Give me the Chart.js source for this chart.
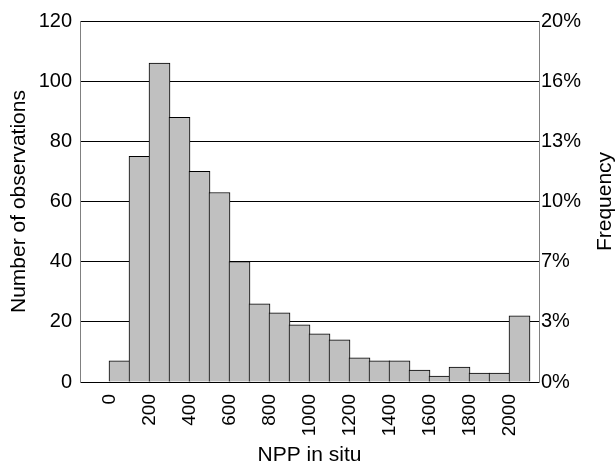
<!DOCTYPE html>
<html>
<head>
<meta charset="utf-8">
<script src="https://cdn.jsdelivr.net/npm/chart.js@4/dist/chart.umd.min.js"></script>
<style>
html,body{margin:0;padding:0;background:#fff;}
#wrap{width:616px;height:466px;position:relative;}
</style>
</head>
<body>
<div id="wrap"><canvas id="c" width="616" height="466"></canvas></div>
<script>
// ---- data ----
const binStarts = [0,100,200,300,400,500,600,700,800,900,1000,1100,1200,1300,1400,1500,1600,1700,1800,1900,2000];
const counts    = [7,75,106,88,70,63,40,26,23,19,16,14,8,7,7,4,2,5,3,3,22];
const binWidth  = 100;
const xTickValues = [0,200,400,600,800,1000,1200,1400,1600,1800,2000];
const yTickValues = [0,20,40,60,80,100,120];
const freqLabels  = ['0%','3%','7%','10%','13%','16%','20%'];
const xTitle = 'NPP in situ';
const yTitle = 'Number of observations';
const y2Title = 'Frequency';

const FONT = '"Liberation Sans", Arial, Helvetica, sans-serif';

const points = binStarts.map((s, i) => ({x: s + binWidth / 2, y: counts[i]}));

const rightTitle = {
  id: 'rightTitle',
  afterDraw(chart) {
    const {ctx, chartArea} = chart;
    ctx.save();
    ctx.font = '21px ' + FONT;
    ctx.fillStyle = '#000';
    ctx.textAlign = 'center';
    ctx.textBaseline = 'middle';
    ctx.translate(605, (chartArea.top + chartArea.bottom) / 2);
    ctx.rotate(-Math.PI / 2);
    ctx.fillText(y2Title, 0, 0);
    ctx.restore();
  }
};

new Chart(document.getElementById('c'), {
  type: 'bar',
  data: {
    datasets: [{
      data: points,
      backgroundColor: '#c0c0c0',
      borderColor: '#000',
      borderWidth: 1,
      barThickness: 21
    }]
  },
  options: {
    responsive: false,
    animation: false,
    devicePixelRatio: 1,
    layout: {padding: {top: 21, left: 0, right: 0, bottom: 0}},
    plugins: {legend: {display: false}, tooltip: {enabled: false}},
    scales: {
      x: {
        type: 'linear',
        offset: false,
        bounds: 'data',
        min: -147.5,
        max: 2147.5,
        afterBuildTicks(scale) { scale.ticks = xTickValues.map(v => ({value: v})); },
        afterFit(scale) { scale.height = 84; },
        grid: {display: false, offset: false},
        border: {display: true, color: '#000', width: 1},
        ticks: {
          minRotation: 90, maxRotation: 90, autoSkip: false, padding: 4,
          color: '#000', font: {family: FONT, size: 19},
          callback: v => String(v)
        },
        title: {display: true, text: xTitle, color: '#000',
                font: {family: FONT, size: 21, lineHeight: 1}, padding: {top: 0, bottom: 0.5}}
      },
      y: {
        position: 'left',
        min: 0, max: 120,
        afterBuildTicks(scale) { scale.ticks = yTickValues.map(v => ({value: v})); },
        afterFit(scale) { scale.width = 80; },
        grid: {color: '#000', lineWidth: 1, drawTicks: false},
        border: {display: true, color: '#808080', width: 1},
        ticks: {padding: 8, color: '#000', font: {family: FONT, size: 20}},
        title: {display: true, text: yTitle, color: '#000',
                font: {family: FONT, size: 21, lineHeight: 1.2}, padding: {top: 7, bottom: 0}}
      },
      y2: {
        position: 'right',
        min: 0, max: 120,
        afterBuildTicks(scale) { scale.ticks = yTickValues.map(v => ({value: v})); },
        afterFit(scale) { scale.width = 77; },
        grid: {display: false, drawTicks: false},
        border: {display: true, color: '#808080', width: 1},
        ticks: {padding: 2, color: '#000', font: {family: FONT, size: 20},
                callback: (v, i) => freqLabels[i]},
        title: {display: false}
      }
    }
  },
  plugins: [rightTitle]
});
</script>
</body>
</html>
